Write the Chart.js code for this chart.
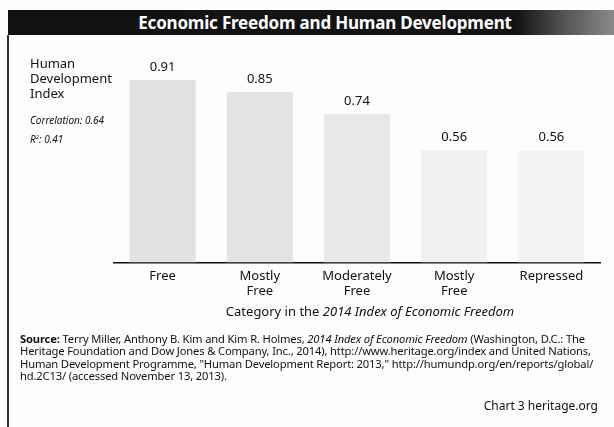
<!DOCTYPE html>
<html>
<head>
<meta charset="utf-8">
<script src="https://cdn.jsdelivr.net/npm/chart.js@4.4.1/dist/chart.umd.min.js"></script>
<style>
  body { margin: 0; background: #fff; font-family: "Noto Sans", "Open Sans", sans-serif; }
  #wrap { position: relative; width: 614px; height: 427px; overflow: hidden; background: #fdfdfd; }
  #head { position: absolute; left: 8px; top: 10px; width: 606px; height: 25px;
          background: linear-gradient(90deg, #111 0%, #141414 84%, #555 92%, #8a8a8a 100%);
          color: #fff; font-weight: bold; font-size: 17px; line-height: 25px; text-align: center; }
  #head span { position: relative; left: 14px; letter-spacing: -0.2px; }
  #border { position: absolute; left: 7px; top: 35px; width: 2px; height: 392px; background: #333; }
  #ylab { position: absolute; left: 30px; top: 56px; font-size: 13px; line-height: 15px; color: #111; }
  #corr { position: absolute; left: 30px; top: 112px; font-size: 10px; line-height: 17px; font-style: italic; color: #111; }
  #xtitle { position: absolute; left: 140px; width: 460px; top: 302px; text-align: center; font-size: 13px; color: #111; }
  #src { position: absolute; left: 20px; top: 333px; font-size: 11.2px; line-height: 12.3px; color: #111; letter-spacing: -0.15px; }
  #credit { position: absolute; right: 16px; top: 397px; font-size: 12px; color: #111; }
  canvas { position: absolute; left: 0; top: 0; }
</style>
</head>
<body>
<div id="wrap">
  <canvas id="myChart" width="614" height="427"></canvas>
  <div id="head"><span>Economic Freedom and Human Development</span></div>
  <div id="border"></div>
  <div id="ylab">Human<br>Development<br>Index</div>
  <div id="corr">Correlation: 0.64<br>R<sup style="font-size:6px">2</sup>: 0.41</div>
  <div id="xtitle">Category in the <i>2014 Index of Economic Freedom</i></div>
  <div id="src"><b>Source:</b> Terry Miller, Anthony B. Kim and Kim R. Holmes, <i>2014 Index of Economic Freedom</i> (Washington, D.C.: The<br>Heritage Foundation and Dow Jones &amp; Company, Inc., 2014), http://www.heritage.org/index and United Nations,<br>Human Development Programme, "Human Development  Report: 2013," http://humundp.org/en/reports/global/<br>hd.2C13/ (accessed November 13, 2013).</div>
  <div id="credit">Chart 3 heritage.org</div>
</div>
<script>
var categories = [['Free'], ['Mostly', 'Free'], ['Moderately', 'Free'], ['Mostly', 'Free'], ['Repressed']];
var hdiValues = [0.91, 0.85, 0.74, 0.56, 0.56];
var barColors = ['#e2e2e2', '#e4e4e4', '#e8e8e8', '#f1f1f1', '#f3f3f3'];

// value labels above bars
const valueLabels = {
  id: 'valueLabels',
  afterDatasetsDraw(chart) {
    const c = chart.ctx;
    const meta = chart.getDatasetMeta(0);
    c.save();
    c.font = '13px "Noto Sans", sans-serif';
    c.fillStyle = '#111';
    c.textAlign = 'center';
    c.textBaseline = 'bottom';
    meta.data.forEach(function (bar, i) {
      c.fillText(hdiValues[i].toFixed(2), bar.x, bar.y - 6);
    });
    c.restore();
  }
};

var ctx = document.getElementById('myChart');
var myChart = new Chart(ctx, {
  type: 'bar',
  data: {
    labels: categories,
    datasets: [{
      label: 'Human Development Index',
      data: hdiValues,
      backgroundColor: barColors,
      borderWidth: 0,
      barPercentage: 0.68,
      categoryPercentage: 1.0
    }]
  },
  options: {
    responsive: false,
    animation: false,
    layout: { padding: { left: 114, right: 14, top: 62, bottom: 122 } },
    plugins: { legend: { display: false }, tooltip: { enabled: false } },
    scales: {
      y: { display: false, min: 0, max: 1 },
      x: {
        grid: { display: false, drawTicks: false },
        border: { display: true, color: '#111', width: 1.5 },
        ticks: { color: '#111', font: { size: 13, family: '"Noto Sans", sans-serif', lineHeight: 1.1 }, padding: 7, maxRotation: 0 }
      }
    }
  },
  plugins: [valueLabels]
});
</script>
</body>
</html>
